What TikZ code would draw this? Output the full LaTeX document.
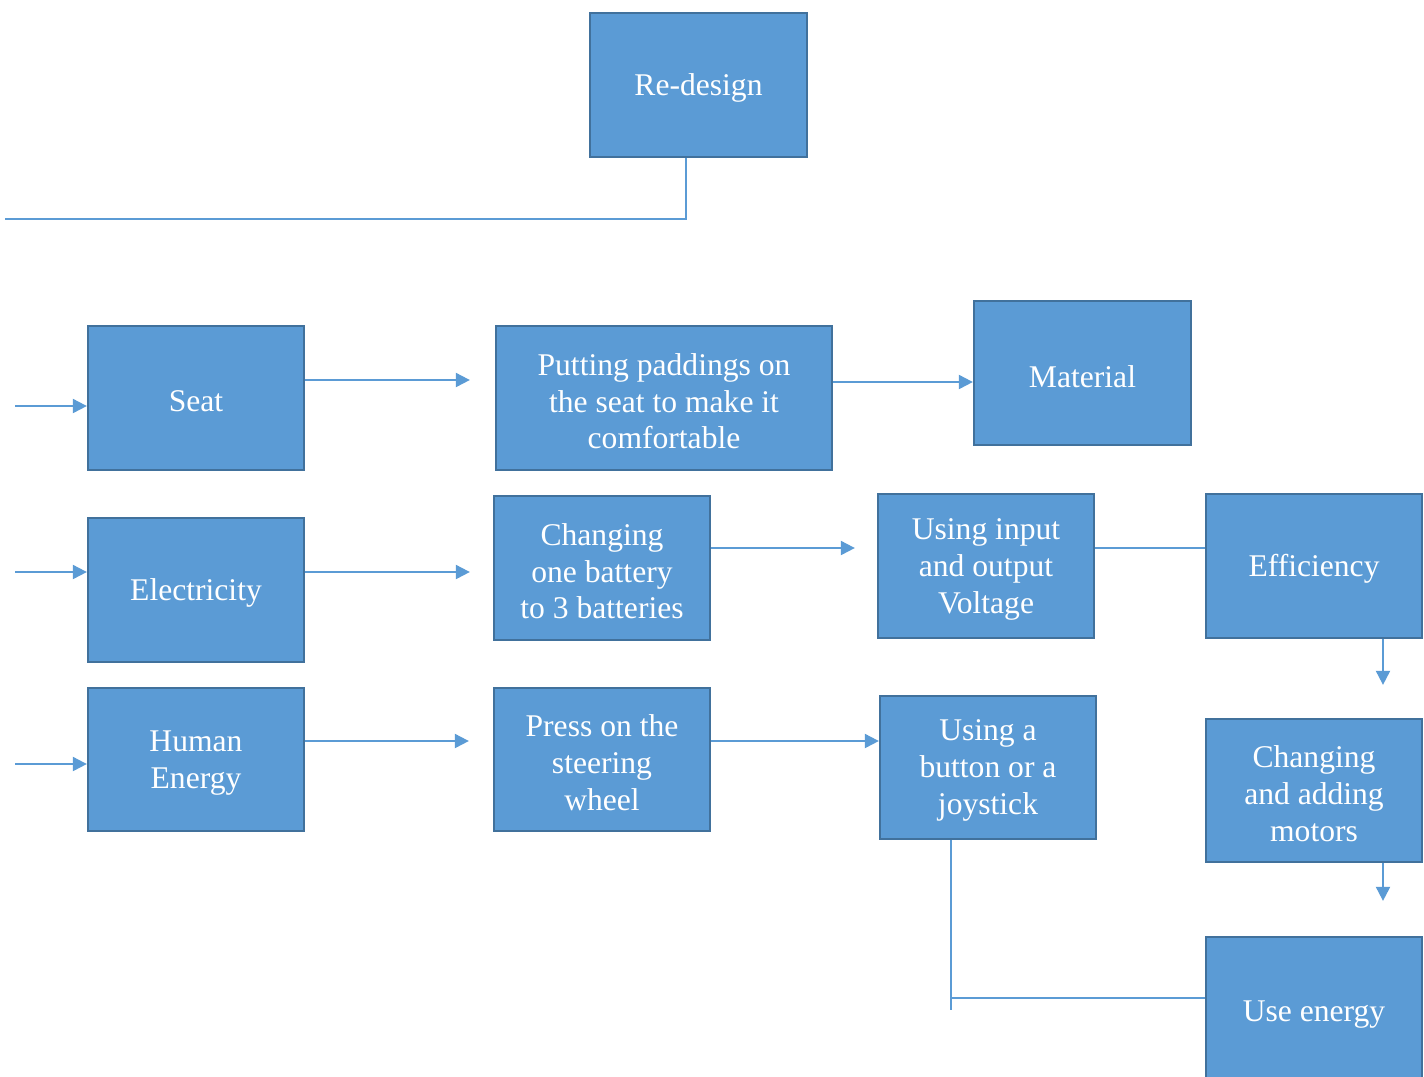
\documentclass[tikz,border=0pt]{standalone}
\usepackage{fontspec}
\setmainfont{Liberation Serif}
\usetikzlibrary{arrows.meta}
\definecolor{boxfill}{HTML}{5B9BD5}
\definecolor{boxline}{HTML}{41719C}
\definecolor{conn}{HTML}{5B9BD5}
\begin{document}
\begin{tikzpicture}[x=0.75pt,y=-0.75pt,
  box/.style={draw=boxline, fill=boxfill, line width=1.7pt,
    inner sep=0pt, minimum width=162pt, minimum height=108pt},
  lbl/.style={text=white, align=center, inner sep=0pt, yshift=-2.4pt,
    font=\fontsize{23.7}{27.7}\selectfont},
  btxt/.style={label={[lbl]center:{#1}}},
  conline/.style={draw=conn, line width=1.5pt},
  arr/.style={conline, -{Triangle[length=10.5pt,width=10.5pt]}}]
\useasboundingbox (0,0) rectangle (1424,1076);
\clip (0,0) rectangle (1424,1076);
% nodes
\node[box, minimum width=162.75pt, btxt={Re-design}] (redesign) at (698.5,85) {};
\node[box, btxt={Seat}] (seat) at (196,398) {};
\node[box, minimum width=252pt, btxt={Putting paddings on\\the seat to make it\\comfortable}] (putting) at (664,398) {};
\node[box, minimum width=162.75pt, btxt={Material}] (material) at (1082.5,373) {};
\node[box, btxt={Electricity}] (elec) at (196,590) {};
\node[box, btxt={Changing\\one battery\\to 3 batteries}] (battery) at (602,568) {};
\node[box, btxt={Using input\\and output\\Voltage}] (voltage) at (986,566) {};
\node[box, btxt={Efficiency}] (eff) at (1314,566) {};
\node[box, minimum height=107.25pt, btxt={Human\\Energy}] (human) at (196,759.5) {};
\node[box, minimum height=107.25pt, btxt={Press on the\\steering\\wheel}] (press) at (602,759.5) {};
\node[box, minimum height=107.25pt, btxt={Using a\\button or a\\joystick}] (button) at (988,767.5) {};
\node[box, minimum height=107.25pt, btxt={Changing\\and adding\\motors}] (motors) at (1314,790.5) {};
\node[box, minimum height=111pt, btxt={Use energy}] (use) at (1314,1011) {};
% coordinates
\coordinate (rdend) at (5,219);
\coordinate (in1) at (15,406);
\coordinate (in2) at (15,572);
\coordinate (in3) at (15,764);
\coordinate (bend) at (951,1010);
% connectors
\draw[conline] (redesign.south -| 686,0) |- (rdend);
\draw[arr] (in1) -- (in1 -| seat.west);
\draw[arr] (in2) -- (in2 -| elec.west);
\draw[arr] (in3) -- (in3 -| human.west);
\draw[arr, shorten >=18.75pt] (seat.east |- 0,380) -- (putting.west |- 0,380);
\draw[arr] (putting.east |- 0,382) -- (material.west |- 0,382);
\draw[arr, shorten >=17.25pt] (elec.east |- 0,572) -- (battery.west |- 0,572);
\draw[arr, shorten >=16.5pt] (battery.east |- 0,548) -- (voltage.west |- 0,548);
\draw[conline] (voltage.east |- 0,548) -- (eff.west |- 0,548);
\draw[arr, shorten >=24.75pt] (eff.south -| 1383,0) -- (motors.north -| 1383,0);
\draw[arr, shorten >=18pt] (human.east |- 0,741) -- (press.west |- 0,741);
\draw[arr] (press.east |- 0,741) -- (button.west |- 0,741);
\draw[arr, shorten >=26.25pt] (motors.south -| 1383,0) -- (use.north -| 1383,0);
\draw[conline] (button.south -| 951,0) -- (bend);
\draw[conline] (bend |- 0,998) -- (use.west |- 0,998);
\end{tikzpicture}
\end{document}
